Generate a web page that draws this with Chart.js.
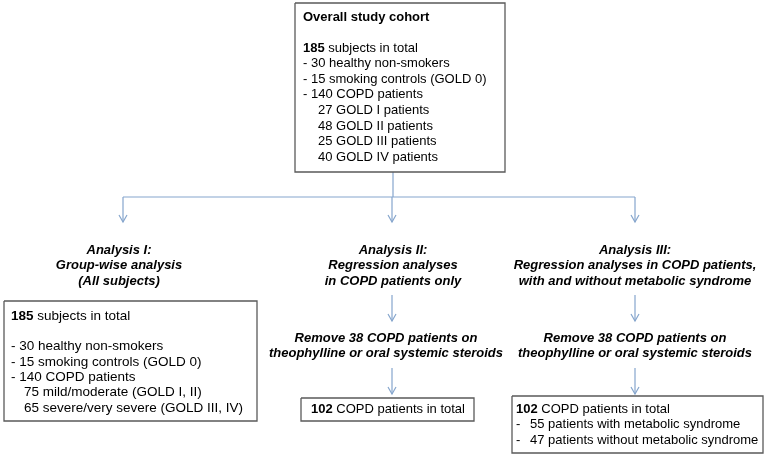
<!DOCTYPE html>
<html>
<head>
<meta charset="utf-8">
<script src="https://cdn.jsdelivr.net/npm/chart.js@4"></script>
<style>
  body { margin: 0; background: #fff; }
  #wrap { width: 765px; height: 456px; }
</style>
</head>
<body>
<div id="wrap"><canvas id="canvas"></canvas></div>
<script>
// text content of the flow chart, [bold part, normal part, indented?]
const cohortTitle = 'Overall study cohort';
const cohortLines = [
    ['185', ' subjects in total'],
    ['', '- 30 healthy non-smokers'],
    ['', '- 15 smoking controls (GOLD 0)'],
    ['', '- 140 COPD patients'],
    ['', '27 GOLD I patients', true],
    ['', '48 GOLD II patients', true],
    ['', '25 GOLD III patients', true],
    ['', '40 GOLD IV patients', true]
];
const analysisTitles = [
    ['Analysis I:', 'Group-wise analysis', '(All subjects)'],
    ['Analysis II:', 'Regression analyses', 'in COPD patients only'],
    ['Analysis III:', 'Regression analyses in COPD patients,', 'with and without metabolic syndrome']
];
const removeText = ['Remove 38 COPD patients on', 'theophylline or oral systemic steroids'];
const groupLines = [
    ['185', ' subjects in total'],
    ['', ''],
    ['', '- 30 healthy non-smokers'],
    ['', '- 15 smoking controls (GOLD 0)'],
    ['', '- 140 COPD patients'],
    ['', '75 mild/moderate (GOLD I, II)', true],
    ['', '65 severe/very severe (GOLD III, IV)', true]
];
const regressionLines = [['102', ' COPD patients in total']];
const metabolicLines = [
    ['102', ' COPD patients in total'],
    ['', '55 patients with metabolic syndrome', true],
    ['', '47 patients without metabolic syndrome', true]
];

// layout (canvas units, y grows downward)
const colX = [123, 392, 635];
const titleX = [119, 393, 635];
const boxes = [
    { x0: 295, y0: 3, x1: 505, y1: 172 },
    { x0: 4, y0: 301, x1: 257, y1: 421 },
    { x0: 301, y0: 398, x1: 474, y1: 421 },
    { x0: 512, y0: 396, x1: 763, y1: 453 }
];
const blue = '#86a6cd';
const boxColor = '#5a5a5a';

function seg(points, color, width) {
    return {
        type: 'scatter',
        data: points.map(p => ({ x: p[0], y: p[1] })),
        showLine: true,
        borderColor: color,
        borderWidth: width,
        pointRadius: 0,
        fill: false,
        tension: 0
    };
}

function arrow(x, y0, y1) {
    return [
        seg([[x, y0], [x, y1]], blue, 1.2),
        seg([[x - 4, y1 - 7], [x, y1], [x + 4, y1 - 7]], blue, 1.2)
    ];
}

const datasets = [];
boxes.forEach(b => {
    datasets.push(seg([[b.x0, b.y0], [b.x1, b.y0], [b.x1, b.y1], [b.x0, b.y1], [b.x0, b.y0]], boxColor, 1.3));
});
datasets.push(seg([[393, 172], [393, 197]], blue, 1.2));
datasets.push(seg([[colX[0], 197], [colX[2], 197]], blue, 1.2));
colX.forEach(x => arrow(x, 197, 222).forEach(d => datasets.push(d)));
[colX[1], colX[2]].forEach(x => {
    arrow(x, 295, 321).forEach(d => datasets.push(d));
    arrow(x, 368, 394).forEach(d => datasets.push(d));
});

// text drawn through the chart scales
const textPlugin = {
    id: 'flowText',
    afterDatasetsDraw(chart) {
        const ctx = chart.ctx;
        const sx = chart.scales.x, sy = chart.scales.y;
        const px = v => sx.getPixelForValue(v);
        const py = v => sy.getPixelForValue(v);
        const fam = '"Liberation Sans", Arial, sans-serif';
        const boldIt = 'italic bold 13px ' + fam;
        ctx.save();
        ctx.fillStyle = '#000';
        ctx.textBaseline = 'middle';

        // x: text start, ix: start of indented lines, dash: draw "-" at x for indented lines
        function lines(list, x, ix, y, lh, size, dash) {
            const reg = size + 'px ' + fam;
            const bold = 'bold ' + size + 'px ' + fam;
            ctx.textAlign = 'left';
            list.forEach((l, i) => {
                let cx = px(l[2] ? ix : x);
                const cy = py(y + i * lh);
                if (l[2] && dash) {
                    ctx.font = reg;
                    ctx.fillText('-', px(x), cy);
                }
                if (l[0]) {
                    ctx.font = bold;
                    ctx.fillText(l[0], cx, cy);
                    cx += ctx.measureText(l[0]).width;
                }
                ctx.font = reg;
                ctx.fillText(l[1], cx, cy);
            });
        }

        function centered(list, x, y) {
            ctx.font = boldIt;
            ctx.textAlign = 'center';
            list.forEach((t, i) => ctx.fillText(t, px(x), py(y + i * 15.5)));
        }

        ctx.font = 'bold 13px ' + fam;
        ctx.textAlign = 'left';
        ctx.fillText(cohortTitle, px(303), py(17));
        lines(cohortLines, 303, 318, 48, 15.6, 13, false);

        analysisTitles.forEach((t, i) => centered(t, titleX[i], 250));
        centered(removeText, 386, 338);
        centered(removeText, colX[2], 338);

        lines(groupLines, 11, 24, 316, 15.3, 13.5, false);

        ctx.font = 'bold 13px ' + fam;
        const w = ctx.measureText(regressionLines[0][0]).width;
        ctx.font = '13px ' + fam;
        const w2 = w + ctx.measureText(regressionLines[0][1]).width;
        lines(regressionLines, 388 - w2 / 2, 0, 409.5, 15.6, 13, false);
        lines(metabolicLines, 516, 530, 409, 15.8, 13, true);
        ctx.restore();
    }
};

new Chart(document.getElementById('canvas'), {
    type: 'scatter',
    data: { datasets: datasets },
    options: {
        responsive: true,
        maintainAspectRatio: false,
        animation: false,
        layout: { padding: 0 },
        plugins: { legend: { display: false }, tooltip: { enabled: false } },
        scales: {
            x: { type: 'linear', min: 0, max: 765, display: false },
            y: { type: 'linear', min: 0, max: 456, reverse: true, display: false }
        }
    },
    plugins: [textPlugin]
});
</script>
</body>
</html>
